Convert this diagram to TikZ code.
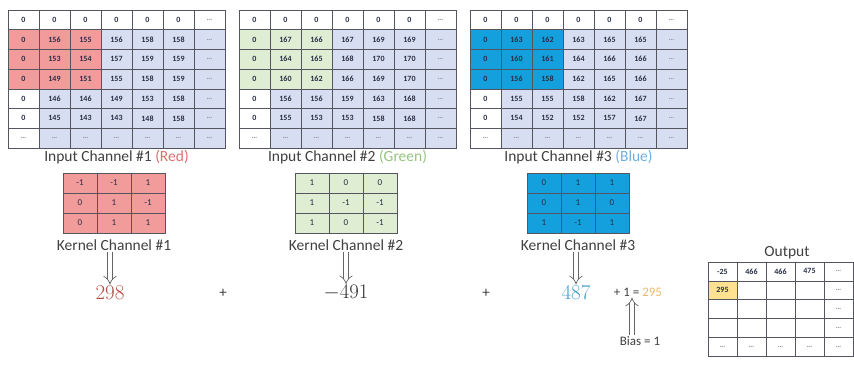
\documentclass[tikz,border=0pt]{standalone}
\usepackage{fontspec}
\setsansfont{Carlito}
\usepackage{tikz}
\usetikzlibrary{arrows.meta}
\usepackage{xcolor}

\definecolor{redhl}{RGB}{242,155,155}
\definecolor{greenhl}{RGB}{223,237,210}
\definecolor{bluehl}{RGB}{20,160,220}
\definecolor{lav}{RGB}{216,222,242}
\definecolor{gridline}{RGB}{85,85,95}
\definecolor{yellowhl}{RGB}{255,226,145}
\definecolor{celltext}{RGB}{40,45,70}
\definecolor{dotgray}{RGB}{150,150,160}
\definecolor{redtxt}{RGB}{225,110,110}
\definecolor{greentxt}{RGB}{150,195,130}
\definecolor{bluetxt}{RGB}{110,175,225}
\definecolor{sumred}{RGB}{180,75,65}
\definecolor{sumblue}{RGB}{70,160,205}
\definecolor{sumorange}{RGB}{240,185,110}

\newcommand{\dd}{\textcolor{dotgray}{\dots}}

% 7x7 input channel: name, left x, highlight colour, 6 rows of 6 values
\newcommand{\inputgrid}[4]{%
  \foreach \row [count=\i from 0] in {#4} {
    \foreach \v [count=\j from 0] in \row {
      \ifnum\i=0 \def\cf{white}\else\ifnum\j=0 \def\cf{white}\else\def\cf{lav}\fi\fi
      \ifnum\i>0 \ifnum\i<4 \ifnum\j<3 \def\cf{#3}\fi\fi\fi
      \node[cell, fill=\cf] (#1-\i-\j) at ({#2+31*\j+15.5}, {10+19.7*\i+9.85}) {\v};
    }
    \ifnum\i=0 \def\cf{white}\else\def\cf{lav}\fi
    \node[cell, fill=\cf] (#1-\i-6) at ({#2+31*6+15.5}, {10+19.7*\i+9.85}) {\dd};
  }
  \foreach \j in {0,...,6} {
    \ifnum\j=0 \def\cf{white}\else\def\cf{lav}\fi
    \node[cell, fill=\cf] (#1-6-\j) at ({#2+31*\j+15.5}, {10+19.7*6+9.85}) {\dd};
  }%
}

% 3x3 kernel: name, left x, fill colour, rows
\newcommand{\kernelgrid}[4]{%
  \foreach \row [count=\i from 0] in {#4} {
    \foreach \v [count=\j from 0] in \row {
      \node[kcell, fill=#3] (#1-\i-\j) at ({#2+34*\j+17}, {173+20*\i+10}) {\v};
    }
  }%
}

\begin{document}
\begin{tikzpicture}[
    x=1pt, y=-1pt,
    cell/.style={draw=gridline, line width=0.6pt, minimum width=31pt,
      minimum height=19.7pt, inner sep=0pt, text=celltext,
      font=\sffamily\bfseries\fontsize{8}{9}\selectfont},
    kcell/.style={draw=gridline, line width=0.6pt, minimum width=34pt,
      minimum height=20pt, inner sep=0pt, text=celltext,
      font=\sffamily\fontsize{9}{10}\selectfont},
    ocell/.style={draw=gridline, line width=0.6pt, minimum width=29pt,
      minimum height=18.8pt, inner sep=0pt, fill=white, text=celltext,
      font=\sffamily\bfseries\fontsize{8}{9}\selectfont},
    lab/.style={font=\sffamily\fontsize{15.5}{17}\selectfont, text=black!75, inner sep=1pt},
    big/.style={font=\fontsize{21}{24}\selectfont, inner sep=1pt},
    small/.style={font=\sffamily\fontsize{13}{15}\selectfont, text=black!75, inner sep=1pt},
    hollow/.style={draw=black!60, line width=0.7pt, double=white,
      double distance=4pt, -{Implies}}
]
  \useasboundingbox (0,0) rectangle (854,365);

  % --- INPUT CHANNELS ---
  \inputgrid{R}{8}{redhl}{{0,0,0,0,0,0},{0,156,155,156,158,158},
    {0,153,154,157,159,159},{0,149,151,155,158,159},
    {0,146,146,149,153,158},{0,145,143,143,148,158}}
  \inputgrid{G}{239}{greenhl}{{0,0,0,0,0,0},{0,167,166,167,169,169},
    {0,164,165,168,170,170},{0,160,162,166,169,170},
    {0,156,156,159,163,168},{0,155,153,153,158,168}}
  \inputgrid{B}{470}{bluehl}{{0,0,0,0,0,0},{0,163,162,163,165,165},
    {0,160,161,164,166,166},{0,156,158,162,165,166},
    {0,155,155,158,162,167},{0,154,152,152,157,167}}

  \node[lab] (labR) at (116.5,157) {Input Channel \#1 \textcolor{redtxt}{(Red)}};
  \node[lab] (labG) at (347.5,157) {Input Channel \#2 \textcolor{greentxt}{(Green)}};
  \node[lab] (labB) at (578.5,157) {Input Channel \#3 \textcolor{bluetxt}{(Blue)}};

  % --- KERNELS ---
  \kernelgrid{K1}{63}{redhl}{{-1,-1,1},{0,1,-1},{0,1,1}}
  \kernelgrid{K2}{295}{greenhl}{{1,0,0},{1,-1,-1},{1,0,-1}}
  \kernelgrid{K3}{527}{bluehl}{{0,1,1},{0,1,0},{1,-1,1}}

  \node[lab] (kl1) at (114,245) {Kernel Channel \#1};
  \node[lab] (kl2) at (346,245) {Kernel Channel \#2};
  \node[lab] (kl3) at (578,245) {Kernel Channel \#3};

  % --- SUMS ---
  \node[big, text=sumred] (s1) at (110,293) {298};
  \node[small, font=\sffamily\fontsize{15}{17}\selectfont] (p1) at (223,293) {+};
  \node[big, text=black!80] (s2) at (346,293) {$-491$};
  \node[small, font=\sffamily\fontsize{15}{17}\selectfont] (p2) at (486,293) {+};
  \node[big, text=sumblue] (s3) at (576,293) {487};
  \node[small] (res) at (638,292) {+ 1 = \textcolor{sumorange}{295}};
  \node[small] (bias) at (640,341) {Bias = 1};

  \draw[hollow] (kl1.south -| s1) -- (s1.north);
  \draw[hollow] (kl2.south -| s2) -- (s2.north);
  \draw[hollow] (kl3.south -| s3) -- (s3.north);
  \draw[hollow] (bias.north -| res.south) ++(-6,0) coordinate (b0) -- (b0 |- res.south);

  % --- OUTPUT ---
  \node[lab] (outlab) at (787,253) {Output};
  \foreach \v [count=\j from 0] in {-25,466,466,475,\dd} {
    \node[ocell] (O-0-\j) at ({708+29*\j+14.5}, {262+18.8*0+9.4}) {\v};
  }
  \foreach \i in {1,2,3} {
    \foreach \j in {0,...,3} {
      \node[ocell] (O-\i-\j) at ({708+29*\j+14.5}, {262+18.8*\i+9.4}) {};
    }
    \node[ocell] (O-\i-4) at ({708+29*4+14.5}, {262+18.8*\i+9.4}) {\dd};
  }
  \foreach \j in {0,...,4} {
    \node[ocell] (O-4-\j) at ({708+29*\j+14.5}, {262+18.8*4+9.4}) {\dd};
  }
  \node[ocell, fill=yellowhl] (O-1-0) at (722.5,290.2) {295};
\end{tikzpicture}
\end{document}
